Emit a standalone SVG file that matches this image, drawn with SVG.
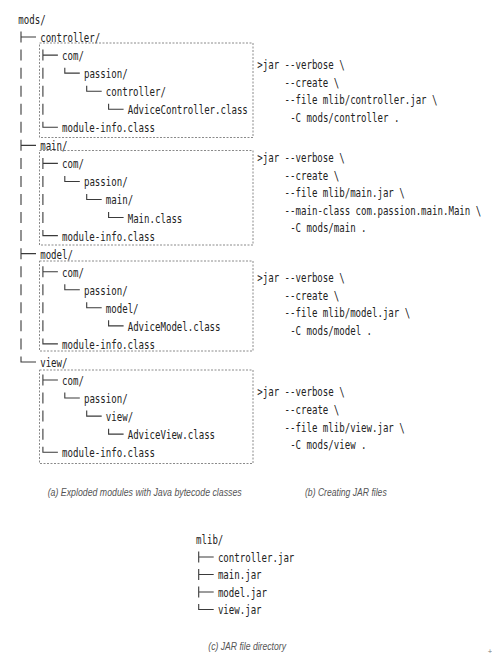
<svg xmlns="http://www.w3.org/2000/svg" width="492" height="665" viewBox="0 0 492 665">
<style>
.m{font-family:"DejaVu Sans Mono",monospace;font-size:12.5px;fill:#222}
.tree{fill:none;stroke:#3a3a3a;stroke-width:1.1}
.box{fill:none;stroke:#8a8a8a;stroke-width:1;stroke-dasharray:2 1.5}
.cap{font-family:"Liberation Sans",sans-serif;font-style:italic;font-size:11px;fill:#555}
</style>
<rect width="492" height="665" fill="#fff"/>
<g id="boxes">
<rect class="box" x="39.5" y="43" width="213.5" height="94.5"/>
<rect class="box" x="39.5" y="150.5" width="213.5" height="94.5"/>
<rect class="box" x="39.5" y="261" width="213.5" height="90"/>
<rect class="box" x="39.5" y="370" width="213.5" height="93.5"/>
</g>
<g id="connectors">
<path class="tree" d="M21 31.55V42.55M21 37.05H36
M21 49.6V60.6M42.9 49.6V60.6M42.9 55.1H57.9
M21 67.65V78.65M42.9 67.65V78.65M64.8 67.65V73.15H79.8
M21 85.7V96.7M42.9 85.7V96.7M86.7 85.7V91.2H101.7
M21 103.75V114.75M42.9 103.75V114.75M108.6 103.75V109.25H123.6
M21 121.8V132.8M42.9 121.8V127.3H57.9
M21 139.85V150.85M21 145.35H36
M21 157.9V168.9M42.9 157.9V168.9M42.9 163.4H57.9
M21 175.95V186.95M42.9 175.95V186.95M64.8 175.95V181.45H79.8
M21 194V205M42.9 194V205M86.7 194V199.5H101.7
M21 212.05V223.05M42.9 212.05V223.05M108.6 212.05V217.55H123.6
M21 230.1V241.1M42.9 230.1V235.6H57.9
M21 248.15V259.15M21 253.65H36
M21 266.2V277.2M42.9 266.2V277.2M42.9 271.7H57.9
M21 284.25V295.25M42.9 284.25V295.25M64.8 284.25V289.75H79.8
M21 302.3V313.3M42.9 302.3V313.3M86.7 302.3V307.8H101.7
M21 320.35V331.35M42.9 320.35V331.35M108.6 320.35V325.85H123.6
M21 338.4V349.4M42.9 338.4V343.9H57.9
M21 356.45V361.95H36
M42.9 374.5V385.5M42.9 380H57.9
M42.9 392.55V403.55M64.8 392.55V398.05H79.8
M42.9 410.6V421.6M86.7 410.6V416.1H101.7
M42.9 428.65V439.65M108.6 428.65V434.15H123.6
M42.9 446.7V452.2H57.9
M198.7 551.5V562.5M198.7 557H213.7
M198.7 569V580M198.7 574.5H213.7
M198.7 586.5V597.5M198.7 592H213.7
M198.7 604V609.5H213.7"/>
</g>
<g transform="scale(0.727,1)">
<g id="mods">
<text class="m" x="25.17" y="24">mods/</text>
</g>
<g id="module-controller">
<text class="m" x="55.27" y="42.05">controller/</text>
<text class="m" x="85.37" y="60.1">com/</text>
<text class="m" x="115.47" y="78.15">passion/</text>
<text class="m" x="145.57" y="96.2">controller/</text>
<text class="m" x="175.67" y="114.25">AdviceController.class</text>
<text class="m" x="85.37" y="132.3">module-info.class</text>
</g>
<g id="module-main">
<text class="m" x="55.27" y="150.35">main/</text>
<text class="m" x="85.37" y="168.4">com/</text>
<text class="m" x="115.47" y="186.45">passion/</text>
<text class="m" x="145.57" y="204.5">main/</text>
<text class="m" x="175.67" y="222.55">Main.class</text>
<text class="m" x="85.37" y="240.6">module-info.class</text>
</g>
<g id="module-model">
<text class="m" x="55.27" y="258.65">model/</text>
<text class="m" x="85.37" y="276.7">com/</text>
<text class="m" x="115.47" y="294.75">passion/</text>
<text class="m" x="145.57" y="312.8">model/</text>
<text class="m" x="175.67" y="330.85">AdviceModel.class</text>
<text class="m" x="85.37" y="348.9">module-info.class</text>
</g>
<g id="module-view">
<text class="m" x="55.27" y="366.95">view/</text>
<text class="m" x="85.37" y="385">com/</text>
<text class="m" x="115.47" y="403.05">passion/</text>
<text class="m" x="145.57" y="421.1">view/</text>
<text class="m" x="175.67" y="439.15">AdviceView.class</text>
<text class="m" x="85.37" y="457.2">module-info.class</text>
</g>
<g id="jar-controller">
<text class="m" x="353.9" y="69">&gt;jar --verbose \</text>
<text class="m" x="391.5" y="86.6">--create \</text>
<text class="m" x="391.5" y="104.2">--file mlib/controller.jar \</text>
<text class="m" x="399.1" y="121.8">-C mods/controller .</text>
</g>
<g id="jar-main">
<text class="m" x="353.9" y="162">&gt;jar --verbose \</text>
<text class="m" x="391.5" y="179.6">--create \</text>
<text class="m" x="391.5" y="197.2">--file mlib/main.jar \</text>
<text class="m" x="391.5" y="214.8">--main-class com.passion.main.Main \</text>
<text class="m" x="399.1" y="232.4">-C mods/main .</text>
</g>
<g id="jar-model">
<text class="m" x="353.9" y="282">&gt;jar --verbose \</text>
<text class="m" x="391.5" y="299.6">--create \</text>
<text class="m" x="391.5" y="317.2">--file mlib/model.jar \</text>
<text class="m" x="399.1" y="334.8">-C mods/model .</text>
</g>
<g id="jar-view">
<text class="m" x="353.9" y="396.5">&gt;jar --verbose \</text>
<text class="m" x="391.5" y="414.1">--create \</text>
<text class="m" x="391.5" y="431.7">--file mlib/view.jar \</text>
<text class="m" x="399.1" y="449.3">-C mods/view .</text>
</g>
<g id="mlib">
<text class="m" x="269.6" y="544.5">mlib/</text>
<text class="m" x="299.7" y="562">controller.jar</text>
<text class="m" x="299.7" y="579.5">main.jar</text>
<text class="m" x="299.7" y="597">model.jar</text>
<text class="m" x="299.7" y="614.5">view.jar</text>
</g>
</g>
<g id="captions">
<text class="cap" x="47.7" y="496" textLength="194" lengthAdjust="spacingAndGlyphs">(a) Exploded modules with Java bytecode classes</text>
<text class="cap" x="305" y="496" textLength="81.7" lengthAdjust="spacingAndGlyphs">(b) Creating JAR files</text>
<text class="cap" x="208.3" y="650" textLength="77.7" lengthAdjust="spacingAndGlyphs">(c) JAR file directory</text>
</g>
<text x="487.5" y="653" font-family="DejaVu Sans" font-size="6" fill="#777">+</text>
</svg>
